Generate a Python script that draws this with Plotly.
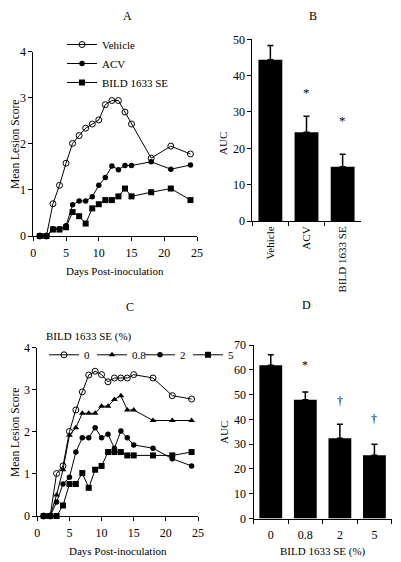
import plotly.graph_objects as go

# Panel A: mean lesion score vs days post-inoculation
days_a = [1, 2, 3, 4, 5, 6, 7, 8, 9, 10, 11, 12, 13, 14, 15, 18, 21, 24]
vehicle = [0, 0, 0.70, 1.10, 1.58, 2.01, 2.18, 2.34, 2.43, 2.52, 2.85, 2.94, 2.94, 2.69, 2.43, 1.69, 1.95, 1.78]
acv = [0, 0, 0.16, 0.16, 0.22, 0.68, 0.76, 0.76, 0.85, 1.10, 1.27, 1.52, 1.44, 1.53, 1.53, 1.61, 1.45, 1.54]
bild = [0, 0, 0.14, 0.14, 0.19, 0.52, 0.43, 0.27, 0.60, 0.69, 0.78, 0.78, 0.86, 1.03, 0.86, 0.95, 1.03, 0.78]

# Panel B: AUC per treatment
groups_b = ["Vehicle", "ACV", "BILD 1633 SE"]
auc_b = [44.4, 24.4, 14.9]
err_b = [3.9, 4.4, 3.5]
sig_b = ["", "*", "*"]
sig_b_y = [0, 35.3, 27.6]

# Panel C: dose response of BILD 1633 SE
days_c = [1, 2, 3, 4, 5, 6, 7, 8, 9, 10, 11, 12, 13, 14, 15, 18, 21, 24]
dose_0 = [0, 0, 1.01, 1.19, 2.01, 2.52, 2.95, 3.35, 3.44, 3.36, 3.19, 3.28, 3.28, 3.28, 3.36, 3.28, 2.86, 2.78]
dose_08 = [0, 0, 0.5, 1.10, 1.92, 2.10, 2.44, 2.44, 2.44, 2.61, 2.61, 2.77, 2.86, 2.52, 2.52, 2.27, 2.27, 2.27]
dose_2 = [0, 0, 0.33, 0.76, 0.92, 1.52, 1.86, 1.86, 2.10, 1.86, 1.94, 1.61, 2.02, 1.86, 1.69, 1.61, 1.36, 1.19]
dose_5 = [0, 0, 0, 0.25, 0.76, 0.76, 1.02, 0.67, 1.10, 1.19, 1.52, 1.52, 1.52, 1.44, 1.44, 1.44, 1.44, 1.52]

# Panel D: AUC per dose
doses_d = ["0", "0.8", "2", "5"]
auc_d = [61.8, 47.9, 32.4, 25.5]
err_d = [4.3, 3.1, 5.6, 4.5]
sig_d = ["", "*", "†", "†"]
sig_d_y = [0, 61.8, 47.4, 40.0]

# the page body keeps its default 8px margin, so the figure starts at (8, 8)
OFF = 8
W, H = 401 - OFF, 562 - OFF
FONT = "Liberation Serif, Times New Roman, serif"


def px_x(p):
    # window pixel -> paper fraction
    return (p - OFF) / W


def px_y(p):
    return 1 - (p - OFF) / H


fig = go.Figure()

line_a = [
    ("Vehicle", vehicle, dict(symbol="circle-open", size=6, color="black", line=dict(width=1))),
    ("ACV", acv, dict(symbol="circle", size=5.5, color="black")),
    ("BILD 1633 SE", bild, dict(symbol="square", size=6, color="black")),
]
for name, ys, mk in line_a:
    fig.add_trace(go.Scatter(
        x=days_a, y=ys, name=name, mode="lines+markers",
        line=dict(color="black", width=1), marker=mk,
        cliponaxis=False, xaxis="x", yaxis="y", legend="legend"
    ))

fig.add_trace(go.Bar(
    x=groups_b, y=auc_b, width=0.66, marker=dict(color="black", line=dict(width=0)),
    error_y=dict(type="data", array=err_b, arrayminus=[0] * len(err_b), symmetric=False,
                 color="black", thickness=1.5, width=3),
    showlegend=False, xaxis="x2", yaxis="y2"
))

line_c = [
    ("0", dose_0, dict(symbol="circle-open", size=6, color="black", line=dict(width=1))),
    ("0.8", dose_08, dict(symbol="triangle-up", size=6, color="black")),
    ("2", dose_2, dict(symbol="circle", size=5.5, color="black")),
    ("5", dose_5, dict(symbol="square", size=6, color="black")),
]
for name, ys, mk in line_c:
    fig.add_trace(go.Scatter(
        x=days_c, y=ys, name=name, mode="lines+markers",
        line=dict(color="black", width=1), marker=mk,
        cliponaxis=False, xaxis="x3", yaxis="y3", legend="legend2"
    ))

fig.add_trace(go.Bar(
    x=doses_d, y=auc_d, width=0.66, marker=dict(color="black", line=dict(width=0)),
    error_y=dict(type="data", array=err_d, arrayminus=[0] * len(err_d), symmetric=False,
                 color="black", thickness=1.5, width=3),
    showlegend=False, xaxis="x4", yaxis="y4"
))

axis_common = dict(
    showline=True, linecolor="black", linewidth=1, showgrid=False, zeroline=False,
    ticks="outside", ticklen=4, tickwidth=1, tickcolor="black",
    tickfont=dict(family=FONT, size=12, color="black"), automargin=False,
)

fig.update_layout(
    width=W, height=H,
    margin=dict(l=0, r=0, t=0, b=0),
    paper_bgcolor="white", plot_bgcolor="white",
    font=dict(family=FONT, size=11, color="black"),
    xaxis=dict(axis_common, domain=[px_x(33.3), px_x(197)], range=[0, 25], dtick=5,
               anchor="y", ticklabelstandoff=2),
    yaxis=dict(axis_common, domain=[px_y(236), px_y(51.7)], range=[0, 4], dtick=1, anchor="x"),
    xaxis2=dict(axis_common, domain=[px_x(252.3), px_x(360.7)], type="category",
                range=[-0.5, 2.5], tickson="boundaries", tickangle=-90, anchor="y2",
                tickfont=dict(family=FONT, size=11, color="black")),
    yaxis2=dict(axis_common, domain=[px_y(221), px_y(39.3)], range=[0, 50], dtick=10, anchor="x2"),
    xaxis3=dict(axis_common, domain=[px_x(37.3), px_x(198)], range=[0, 25], dtick=5,
                anchor="y3", ticklabelstandoff=2),
    yaxis3=dict(axis_common, domain=[px_y(516), px_y(347.7)], range=[0, 4], dtick=1, anchor="x3"),
    xaxis4=dict(axis_common, domain=[px_x(253.5), px_x(391.7)], type="category",
                range=[-0.5, 3.5], tickson="boundaries", anchor="y4", ticklabelstandoff=5),
    yaxis4=dict(axis_common, domain=[px_y(518.5), px_y(345)], range=[0, 70], dtick=10, anchor="x4"),
    legend=dict(x=px_x(62), y=px_y(30), xanchor="left", yanchor="top",
                bgcolor="rgba(0,0,0,0)", font=dict(family=FONT, size=11)),
    legend2=dict(x=px_x(44), y=px_y(326), xanchor="left", yanchor="top", orientation="h",
                 entrywidth=3, entrywidthmode="pixels",
                 bgcolor="rgba(0,0,0,0)", font=dict(family=FONT, size=11),
                 title=dict(text="BILD 1633 SE (%)", side="top",
                            font=dict(family=FONT, size=11))),
)

annotations = []


def label(text, x, y, size=11, angle=0):
    annotations.append(dict(text=text, x=px_x(x), y=px_y(y), xref="paper", yref="paper",
                            showarrow=False, textangle=angle,
                            font=dict(family=FONT, size=size, color="black"),
                            xanchor="center", yanchor="middle"))


label("A", 127, 16, 12)
label("B", 313, 16, 12)
label("C", 130, 307, 12)
label("D", 306, 305, 12)
label("Mean Lesion Score", 15, 145, 11.5, -90)
label("Mean Lesion Score", 15, 433, 11.5, -90)
label("Days Post-inoculation", 115, 271, 11)
label("Days Post-inoculation", 118, 551, 11)
label("AUC", 223, 143, 11, -90)
label("AUC", 224, 433, 11, -90)
label("BILD 1633 SE (%)", 323, 551, 11)

# significance marks, placed on the category index of each bar
for i, (s, yv) in enumerate(zip(sig_b, sig_b_y)):
    if s:
        annotations.append(dict(text=s, x=i, y=yv, xref="x2", yref="y2", showarrow=False,
                                font=dict(family=FONT, size=13, color="black")))
for i, (s, yv) in enumerate(zip(sig_d, sig_d_y)):
    if s:
        annotations.append(dict(text=s, x=i, y=yv, xref="x4", yref="y4", showarrow=False,
                                font=dict(family=FONT, size=12, color="black")))

fig.update_layout(annotations=annotations)

fig.write_html("out.html")
